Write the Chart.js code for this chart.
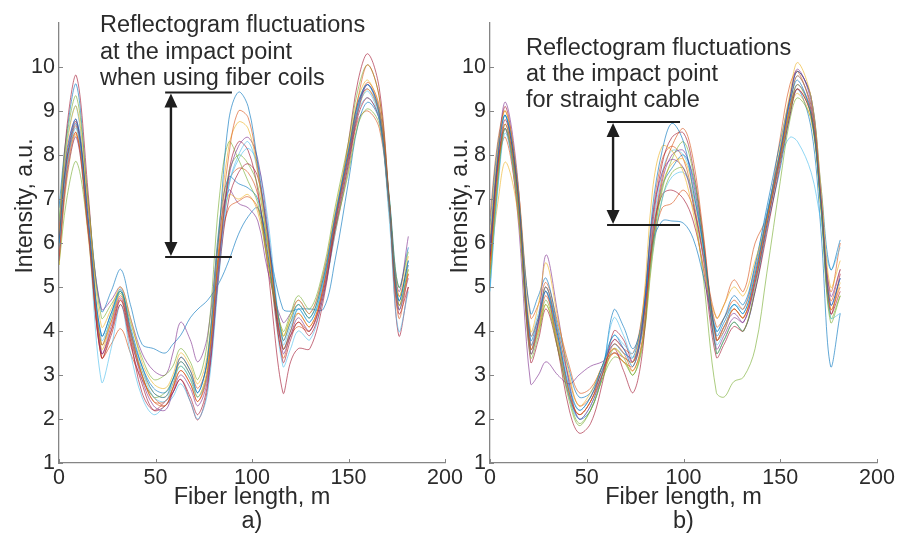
<!DOCTYPE html>
<html>
<head>
<meta charset="utf-8">
<script src="https://cdn.jsdelivr.net/npm/chart.js@4.4.1/dist/chart.umd.min.js"></script>
<style>
  html, body { margin: 0; padding: 0; background: #fff; }
  #wrap { position: relative; width: 904px; height: 541px; overflow: hidden; }
  canvas { position: absolute; top: 0; }
  #chartA { left: 0; }
  #chartB { left: 440px; }
</style>
</head>
<body>
<div id="wrap">
  <canvas id="chartA" width="480" height="541"></canvas>
  <canvas id="chartB" width="464" height="541"></canvas>
</div>
<script>
// ---- datos ----
const xTicks = [0, 50, 100, 150, 200];
const yTicks = [1, 2, 3, 4, 5, 6, 7, 8, 9, 10];

// a) fiber coils
const xsA = [0, 4, 9, 15, 22, 27, 32, 37, 43, 49, 55, 59, 63, 68, 72, 77, 83, 88, 93, 98, 103, 108, 116, 120, 124, 130, 137, 143, 150, 155, 160, 166, 171, 176, 181];
const curvesA = [
  [6.0, 8.0, 8.8, 6.6, 3.9, 4.4, 4.9, 4.1, 3.2, 2.6, 2.5, 2.9, 3.3, 3.0, 2.6, 3.4, 6.3, 8.8, 9.43, 9.1, 7.8, 6.3, 3.8, 4.2, 4.6, 4.3, 5.2, 6.6, 8.1, 9.2, 9.6, 8.9, 6.9, 4.7, 5.6],
  [5.7, 7.6, 8.5, 6.4, 3.7, 4.2, 4.8, 4.0, 3.0, 2.4, 2.3, 2.7, 3.1, 2.8, 2.4, 3.1, 6.0, 8.0, 9.0, 8.85, 7.7, 6.2, 3.6, 4.0, 4.4, 4.1, 5.0, 6.5, 8.0, 9.3, 10.05, 9.3, 7.0, 4.3, 5.3],
  [6.2, 8.2, 9.1, 6.9, 4.1, 4.5, 5.0, 4.3, 3.3, 2.8, 2.7, 3.0, 3.5, 3.2, 2.8, 3.5, 6.3, 8.2, 8.75, 8.6, 7.6, 6.0, 3.9, 4.3, 4.7, 4.4, 5.3, 6.7, 8.2, 9.3, 9.7, 9.0, 6.9, 4.8, 5.7],
  [5.6, 7.5, 8.4, 6.3, 3.5, 4.1, 4.75, 3.9, 2.9, 2.3, 2.2, 2.6, 3.0, 2.7, 2.3, 2.9, 5.6, 7.5, 8.2, 8.4, 7.9, 6.4, 3.5, 3.9, 4.3, 4.0, 4.9, 6.4, 7.9, 9.0, 9.6, 9.0, 7.0, 4.5, 5.2],
  [6.5, 8.4, 9.33, 7.0, 4.3, 4.6, 4.9, 4.2, 3.4, 2.9, 3.0, 3.2, 3.6, 3.3, 2.9, 3.8, 7.0, 8.3, 7.9, 7.4, 6.9, 5.6, 4.0, 4.4, 4.8, 4.5, 5.4, 6.8, 8.3, 9.5, 10.05, 9.3, 7.1, 4.6, 5.4],
  [5.8, 7.7, 8.6, 6.5, 3.8, 4.3, 4.9, 4.0, 3.1, 2.5, 2.4, 2.8, 3.2, 2.9, 2.5, 3.0, 5.5, 7.3, 7.9, 8.15, 7.8, 6.6, 3.7, 4.1, 4.5, 4.2, 5.1, 6.6, 8.1, 9.1, 9.45, 8.8, 6.8, 4.5, 5.5],
  [6.1, 7.9, 8.75, 6.6, 3.4, 3.9, 4.6, 3.7, 2.8, 2.2, 2.3, 2.6, 2.9, 2.5, 2.1, 2.8, 5.4, 7.0, 7.6, 7.8, 7.5, 6.2, 3.3, 3.8, 4.2, 3.9, 4.8, 6.3, 7.8, 8.9, 9.3, 8.8, 6.8, 4.4, 5.0],
  [5.9, 7.8, 8.7, 6.5, 3.9, 4.4, 4.95, 4.0, 3.2, 2.7, 2.6, 2.9, 3.4, 3.1, 2.6, 3.4, 6.4, 7.5, 7.35, 7.25, 7.0, 5.8, 3.6, 4.0, 4.5, 4.2, 5.1, 6.5, 8.0, 9.1, 9.6, 9.0, 7.0, 4.7, 5.6],
  [6.0, 7.9, 8.5, 6.4, 3.4, 4.0, 4.7, 3.8, 3.0, 2.4, 2.4, 2.7, 3.1, 2.8, 2.4, 3.0, 5.8, 6.8, 6.95, 7.05, 6.8, 5.7, 3.4, 3.9, 4.2, 4.0, 5.0, 6.5, 8.0, 9.1, 9.65, 9.1, 7.0, 4.6, 5.3],
  [5.5, 7.4, 8.45, 6.2, 3.6, 4.2, 4.9, 3.9, 3.1, 2.6, 2.5, 2.8, 3.3, 3.0, 2.5, 3.2, 5.9, 7.1, 7.0, 7.1, 6.7, 5.6, 3.8, 4.2, 4.4, 4.1, 5.0, 6.4, 7.9, 9.0, 9.5, 8.9, 6.8, 4.5, 5.4],
  [6.3, 8.1, 8.8, 6.8, 4.5, 4.7, 5.0, 4.3, 3.5, 3.1, 3.0, 3.5, 4.2, 3.8, 3.3, 3.9, 6.2, 7.2, 6.9, 6.8, 6.5, 5.4, 4.2, 4.4, 4.7, 4.4, 5.3, 6.6, 8.1, 9.2, 9.5, 8.9, 6.9, 4.9, 6.15],
  [5.5, 7.0, 7.85, 6.3, 3.7, 4.3, 4.85, 4.0, 3.0, 2.5, 2.6, 2.9, 3.2, 2.9, 2.5, 3.1, 5.7, 7.6, 8.0, 7.8, 7.3, 6.0, 3.9, 4.3, 4.6, 4.3, 5.2, 6.3, 7.6, 8.7, 9.05, 8.7, 7.0, 5.0, 5.8],
  [6.4, 8.3, 9.1, 6.4, 2.85, 3.6, 4.6, 3.5, 2.5, 2.1, 2.3, 2.5, 2.8, 2.4, 2.0, 2.6, 5.3, 7.3, 8.0, 8.3, 7.6, 6.0, 3.2, 3.6, 4.0, 3.8, 4.8, 6.2, 7.8, 9.0, 9.3, 8.8, 6.6, 4.0, 4.9],
  [6.2, 8.6, 9.8, 7.2, 3.5, 4.0, 4.7, 3.8, 2.6, 2.2, 2.4, 2.6, 2.9, 2.4, 1.98, 2.7, 5.5, 7.6, 8.3, 8.1, 7.2, 5.5, 2.6, 3.3, 3.6, 3.6, 4.7, 6.4, 8.3, 9.7, 10.3, 9.5, 7.0, 3.9, 5.0],
  [6.8, 8.5, 9.6, 7.0, 4.45, 4.9, 5.4, 4.6, 3.7, 3.6, 3.5, 3.7, 3.9, 4.3, 4.5, 4.7, 5.1, 5.6, 6.2, 6.6, 6.8, 6.0, 4.5, 4.45, 4.5, 4.5, 4.5, 5.6, 7.4, 8.7, 9.2, 8.8, 7.1, 5.0, 5.9],
  [5.6, 7.7, 8.65, 6.3, 3.4, 3.7, 4.05, 3.5, 2.9, 2.5, 2.3, 2.7, 3.4, 3.1, 2.7, 3.3, 5.8, 7.4, 7.7, 7.6, 7.1, 5.8, 3.6, 3.9, 4.1, 4.0, 4.9, 6.2, 7.7, 8.8, 9.0, 8.6, 6.9, 4.8, 5.5]
];

// b) straight cable
const xsB = [0, 4, 8, 14, 21, 25, 29, 35, 41, 46, 52, 58, 64, 69, 74, 79, 84, 89, 94, 100, 105, 110, 117, 121, 126, 131, 137, 143, 150, 155, 159, 166, 171, 176, 181];
const curvesB = [
  [5.8, 7.9, 8.9, 7.4, 3.8, 4.3, 4.9, 3.9, 2.7, 2.2, 2.5, 3.2, 3.9, 3.6, 3.2, 4.2, 6.8, 8.1, 8.72, 8.3, 7.2, 6.0, 3.9, 4.2, 4.6, 4.4, 5.3, 6.6, 8.1, 9.2, 9.7, 8.9, 6.9, 4.6, 5.2],
  [5.4, 7.6, 8.7, 7.2, 3.6, 4.1, 4.8, 3.8, 2.6, 2.1, 2.4, 3.0, 3.7, 3.5, 3.1, 3.9, 6.1, 7.5, 8.2, 8.6, 7.9, 6.3, 3.8, 4.0, 4.5, 4.3, 5.2, 6.5, 8.0, 9.1, 9.8, 9.1, 7.0, 4.5, 5.0],
  [6.2, 8.1, 9.0, 7.5, 4.0, 4.6, 5.55, 4.3, 3.0, 2.3, 2.6, 3.2, 3.6, 3.4, 3.3, 4.5, 7.2, 8.2, 8.1, 7.6, 6.7, 5.5, 4.3, 4.6, 5.0, 4.8, 5.6, 6.5, 8.2, 9.4, 10.1, 9.3, 7.3, 5.0, 5.6],
  [6.0, 8.0, 9.2, 7.6, 3.5, 4.2, 5.73, 4.4, 2.8, 2.0, 2.3, 3.0, 3.8, 3.6, 3.3, 4.3, 6.6, 7.6, 7.9, 7.7, 6.9, 5.7, 3.6, 3.9, 4.3, 4.2, 5.1, 6.4, 8.0, 9.3, 9.95, 9.2, 7.1, 4.8, 5.4],
  [5.2, 7.4, 8.6, 7.0, 3.4, 3.9, 4.6, 3.6, 2.4, 1.85, 2.2, 2.9, 3.6, 3.4, 3.0, 3.8, 5.9, 7.2, 7.9, 8.3, 7.6, 6.1, 3.5, 3.8, 4.2, 4.0, 5.0, 6.4, 7.9, 9.0, 9.6, 8.9, 6.8, 4.2, 4.8],
  [4.9, 7.2, 8.5, 7.0, 3.7, 4.2, 4.9, 3.8, 2.5, 2.0, 2.3, 3.1, 4.3, 3.9, 3.4, 4.0, 5.8, 7.0, 7.5, 7.6, 7.1, 5.9, 3.7, 4.0, 4.6, 4.4, 5.3, 6.6, 8.1, 9.2, 9.8, 9.1, 6.9, 4.3, 4.4],
  [5.6, 7.7, 8.8, 7.3, 3.3, 3.8, 4.5, 3.6, 2.5, 2.1, 2.4, 3.1, 3.6, 3.1, 2.6, 3.6, 6.2, 7.1, 7.2, 7.0, 6.5, 5.5, 3.4, 3.7, 4.1, 4.0, 4.9, 6.2, 7.8, 8.9, 9.5, 8.9, 6.9, 4.4, 4.9],
  [6.4, 8.2, 8.9, 7.3, 4.4, 4.8, 5.2, 4.1, 3.1, 2.5, 2.6, 3.2, 3.7, 3.5, 3.4, 4.4, 6.0, 6.5, 6.5, 6.45, 6.1, 5.3, 4.0, 4.3, 4.8, 4.6, 5.5, 6.8, 8.3, 9.3, 9.9, 9.3, 7.3, 5.4, 6.07],
  [5.9, 7.8, 8.4, 6.9, 3.9, 4.3, 5.0, 4.0, 2.9, 2.3, 2.5, 3.1, 3.5, 3.3, 3.2, 4.1, 5.9, 6.8, 6.9, 7.2, 6.8, 5.8, 4.1, 4.3, 4.7, 4.5, 5.4, 6.6, 8.0, 9.1, 9.5, 8.9, 6.9, 4.7, 5.4],
  [5.5, 6.9, 7.84, 6.8, 3.6, 4.0, 4.6, 3.7, 2.6, 2.1, 2.4, 3.0, 3.5, 3.3, 3.1, 3.8, 5.8, 7.3, 7.8, 7.9, 7.2, 5.8, 3.8, 4.1, 4.5, 4.3, 5.2, 6.5, 8.0, 9.0, 9.4, 8.8, 6.8, 4.5, 5.1],
  [5.7, 7.8, 8.6, 6.8, 2.8, 3.0, 3.3, 3.0, 2.8, 3.0, 3.2, 3.3, 3.5, 3.4, 3.3, 4.2, 6.0, 7.4, 8.0, 8.1, 7.4, 6.0, 3.8, 4.1, 4.4, 4.2, 5.1, 6.4, 7.9, 9.0, 9.6, 9.0, 6.9, 4.6, 5.2],
  [5.3, 7.5, 8.7, 7.1, 3.5, 4.0, 4.7, 3.7, 2.5, 1.9, 2.2, 2.9, 3.4, 3.3, 3.0, 3.7, 5.7, 7.0, 7.6, 7.7, 6.9, 5.3, 2.6, 2.5, 2.85, 2.95, 3.6, 5.3, 7.4, 8.8, 9.3, 8.8, 6.8, 4.3, 4.8],
  [6.0, 8.0, 8.9, 7.2, 3.9, 4.4, 5.0, 4.0, 2.8, 2.2, 2.5, 3.1, 3.9, 3.7, 3.5, 4.3, 6.3, 7.6, 8.1, 8.0, 7.3, 6.0, 4.0, 4.3, 4.6, 4.5, 5.5, 6.7, 7.9, 8.4, 8.3, 7.6, 6.5, 5.4, 5.9],
  [5.6, 7.9, 9.1, 7.4, 3.7, 4.2, 4.9, 3.6, 2.2, 1.68, 1.9, 2.8, 4.0, 3.8, 3.3, 4.1, 6.4, 7.8, 8.4, 8.5, 7.7, 6.2, 3.8, 4.1, 4.5, 4.3, 5.2, 6.6, 8.1, 9.3, 9.9, 9.3, 7.0, 4.4, 5.3],
  [5.0, 7.3, 8.6, 7.1, 3.6, 4.2, 5.0, 3.9, 2.6, 2.0, 2.2, 3.0, 4.48, 4.1, 3.6, 4.3, 6.0, 7.3, 7.7, 8.0, 7.5, 6.1, 3.5, 3.8, 4.2, 4.0, 4.9, 6.3, 7.7, 8.9, 9.5, 8.6, 6.3, 3.2, 4.4],
  [6.6, 8.3, 9.0, 7.5, 4.3, 4.6, 5.1, 4.2, 3.2, 2.6, 2.7, 3.2, 3.8, 3.6, 3.5, 4.5, 6.6, 7.9, 8.2, 7.9, 7.0, 5.8, 4.3, 4.6, 5.16, 4.9, 6.0, 6.6, 8.4, 9.6, 9.9, 9.0, 7.0, 4.9, 6.0]
];

// ---- estilo ----
const FONT = '"Liberation Sans", Arial, sans-serif';
const AXIS = '#858585';
const TEXT = '#2b2b2b';
const COLORS = [
  'rgba(0,114,189,0.62)', 'rgba(217,83,25,0.62)', 'rgba(237,177,32,0.62)', 'rgba(126,47,142,0.62)',
  'rgba(119,172,48,0.62)', 'rgba(77,190,238,0.62)', 'rgba(162,20,47,0.62)'
];

function buildDatasets(xs, curves) {
  return curves.map((ys, i) => ({
    data: ys.map((y, j) => ({ x: xs[j], y })),
    borderColor: COLORS[i % COLORS.length],
    borderWidth: 1,
    pointRadius: 0,
    fill: false,
    tension: 0.35
  }));
}

// ticks hacia dentro, título Y, texto y flecha
function overlay(cfg) {
  return {
    id: 'overlay',
    afterDraw(chart) {
      const { ctx, chartArea: ca } = chart;
      const xs = chart.scales.x, ys = chart.scales.y;
      ctx.save();
      ctx.strokeStyle = AXIS;
      ctx.lineWidth = 1;
      ctx.beginPath();
      xTicks.forEach(v => {
        const px = Math.round(xs.getPixelForValue(v)) + 0.5;
        ctx.moveTo(px, ca.bottom); ctx.lineTo(px, ca.bottom - 4);
      });
      yTicks.forEach(v => {
        const py = Math.round(ys.getPixelForValue(v)) + 0.5;
        ctx.moveTo(ca.left, py); ctx.lineTo(ca.left + 4, py);
      });
      ctx.stroke();

      // título eje Y
      ctx.fillStyle = TEXT;
      ctx.font = '23px ' + FONT;
      ctx.textAlign = 'center';
      ctx.textBaseline = 'middle';
      ctx.save();
      ctx.translate(cfg.yTitle[0], cfg.yTitle[1]);
      ctx.rotate(-Math.PI / 2);
      ctx.fillText('Intensity, a.u.', 0, 0);
      ctx.restore();

      // nota
      ctx.font = '23.5px ' + FONT;
      ctx.textAlign = 'left';
      ctx.textBaseline = 'alphabetic';
      cfg.note.forEach((line, i) => ctx.fillText(line, cfg.noteX, cfg.noteY + i * cfg.noteDy));

      // flecha
      const a = cfg.arrow;
      const ax = xs.getPixelForValue(a.x);
      const yTop = ys.getPixelForValue(a.top);
      const yBot = ys.getPixelForValue(a.bottom);
      const h0 = xs.getPixelForValue(a.h0);
      const h1 = xs.getPixelForValue(a.h1);
      ctx.strokeStyle = '#1e1e1e';
      ctx.fillStyle = '#1e1e1e';
      ctx.lineWidth = 2;
      ctx.beginPath();
      ctx.moveTo(h0, yTop); ctx.lineTo(h1, yTop);
      ctx.moveTo(h0, yBot); ctx.lineTo(h1, yBot);
      ctx.stroke();
      ctx.lineWidth = 2.4;
      ctx.beginPath();
      ctx.moveTo(ax, yTop + 10); ctx.lineTo(ax, yBot - 10);
      ctx.stroke();
      const hw = 6.5, hh = 15;
      ctx.beginPath();
      ctx.moveTo(ax, yTop + 1); ctx.lineTo(ax - hw, yTop + hh); ctx.lineTo(ax + hw, yTop + hh); ctx.closePath();
      ctx.moveTo(ax, yBot - 1); ctx.lineTo(ax - hw, yBot - hh); ctx.lineTo(ax + hw, yBot - hh); ctx.closePath();
      ctx.fill();
      ctx.restore();
    }
  };
}

function makeChart(id, xs, curves, opts) {
  return new Chart(document.getElementById(id), {
    type: 'line',
    data: { datasets: buildDatasets(xs, curves) },
    options: {
      responsive: false,
      animation: false,
      events: [],
      layout: { padding: { top: 23, right: opts.padRight, left: 0, bottom: 0 } },
      plugins: { legend: { display: false }, tooltip: { enabled: false } },
      scales: {
        x: {
          type: 'linear', min: 0, max: 200,
          afterBuildTicks: s => { s.ticks = xTicks.map(v => ({ value: v })); },
          afterFit: s => { s.height = 78; },
          grid: { display: false, drawTicks: false },
          border: { display: true, color: AXIS, width: 1.3 },
          ticks: { color: TEXT, font: { family: FONT, size: 21.5, lineHeight: 1 }, padding: 4, maxRotation: 0 },
          title: {
            display: true, text: ['Fiber length, m', opts.tag], color: TEXT,
            font: { family: FONT, size: 23.5, lineHeight: 1.03 }, padding: { top: 0, bottom: 7 }
          }
        },
        y: {
          type: 'linear', min: 1, max: 11,
          afterBuildTicks: s => { s.ticks = yTicks.map(v => ({ value: v })); },
          afterFit: s => { s.width = opts.yWidth; },
          grid: { display: false, drawTicks: false },
          border: { display: true, color: AXIS, width: 1.3 },
          ticks: { color: TEXT, font: { family: FONT, size: 21.5, lineHeight: 1 }, padding: 4 }
        }
      }
    },
    plugins: [overlay(opts)]
  });
}

makeChart('chartA', xsA, curvesA, {
  tag: 'a)', padRight: 35, yWidth: 59,
  yTitle: [26, 206],
  note: ['Reflectogram fluctuations', 'at the impact point', 'when using fiber coils'],
  noteX: 100, noteY: 32, noteDy: 26.5,
  arrow: { x: 58, top: 9.42, bottom: 5.68, h0: 55, h1: 89.6 }
});

makeChart('chartB', xsB, curvesB, {
  tag: 'b)', padRight: 27, yWidth: 50,
  yTitle: [21, 206],
  note: ['Reflectogram fluctuations', 'at the impact point', 'for straight cable'],
  noteX: 86, noteY: 55, noteDy: 26,
  arrow: { x: 63.6, top: 8.75, bottom: 6.41, h0: 60.5, h1: 98.2 }
});
</script>
</body>
</html>
